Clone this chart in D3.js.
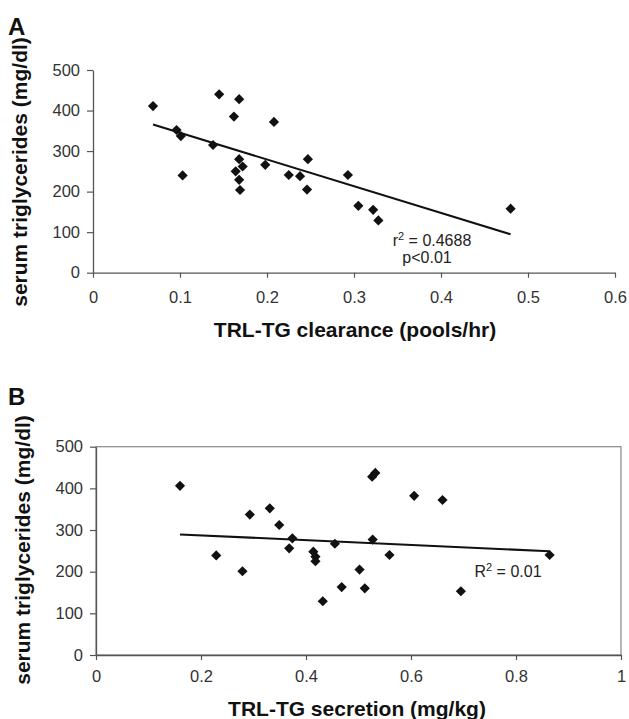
<!DOCTYPE html>
<html>
<head>
<meta charset="utf-8">
<script src="https://cdn.jsdelivr.net/npm/d3@7"></script>
<style>
  body { margin: 0; background: #fff; }
  text { font-family: "Liberation Sans", Arial, sans-serif; }
</style>
</head>
<body>
<div id="chart"></div>
<script>
// panel A: clearance vs serum TG
var clearanceA = [0.069, 0.096, 0.101, 0.103, 0.138, 0.145, 0.168, 0.162, 0.168, 0.172, 0.164, 0.168,
    0.169, 0.198, 0.208, 0.225, 0.238, 0.246, 0.247, 0.293, 0.305, 0.322, 0.328, 0.480];
var tgA = [411, 352, 337, 240, 315, 440, 428, 385, 280, 262, 250, 229,
    204, 266, 372, 241, 238, 205, 280, 241, 165, 155, 129, 158];
var trendA = [-659, 411];   // slope, intercept
var xTicksA = [0, 0.1, 0.2, 0.3, 0.4, 0.5, 0.6];

// panel B: secretion vs serum TG
var secretionB = [0.160, 0.229, 0.279, 0.293, 0.331, 0.349, 0.374, 0.368, 0.414, 0.418, 0.418, 0.432,
    0.455, 0.468, 0.502, 0.512, 0.526, 0.532, 0.527, 0.559, 0.606, 0.660, 0.695, 0.864];
var tgB = [406, 239, 201, 337, 352, 312, 280, 256, 248, 236, 225, 129,
    267, 163, 205, 160, 428, 437, 277, 240, 382, 372, 153, 240];
var trendB = [-57.4, 298.6];
var xTicksB = [0, 0.2, 0.4, 0.6, 0.8, 1];

var yTicks = [0, 100, 200, 300, 400, 500];

var width = 629, height = 719;

var svg = d3.select("#chart").append("svg")
    .attr("width", width)
    .attr("height", height);

var diamond = d3.symbol().type(d3.symbolSquare).size(52);

function drawPanel(p) {
    var g = svg.append("g");
    var x = d3.scaleLinear().domain([0, p.xMax]).range(p.xRange);
    var y = d3.scaleLinear().domain([0, 500]).range(p.yRange);

    if (p.frame) {
        g.append("rect")
            .attr("x", x(0)).attr("y", y(500))
            .attr("width", x(p.xMax) - x(0)).attr("height", y(0) - y(500))
            .attr("fill", "none").attr("stroke", "#888").attr("stroke-width", 1.2);
    }

    var xAxis = g.append("g")
        .attr("transform", "translate(0," + y(0) + ")")
        .call(d3.axisBottom(x).tickValues(p.xTicks).tickFormat(d3.format("")).tickSize(5).tickSizeOuter(0).tickPadding(p.xPad));
    var yAxis = g.append("g")
        .attr("transform", "translate(" + x(0) + ",0)")
        .call(d3.axisLeft(y).tickValues(yTicks).tickSize(6).tickSizeOuter(0).tickPadding(7));

    [xAxis, yAxis].forEach(function(a) {
        a.select(".domain").attr("stroke", "#555").attr("stroke-width", 1.3);
        a.selectAll(".tick line").attr("stroke", "#555").attr("stroke-width", 1.2);
        a.selectAll(".tick text").attr("fill", "#333").style("font-size", "16.5px");
    });

    // trend line over the data range
    var ext = d3.extent(p.xs);
    g.append("line")
        .attr("x1", x(ext[0])).attr("y1", y(p.trend[0] * ext[0] + p.trend[1]))
        .attr("x2", x(ext[1])).attr("y2", y(p.trend[0] * ext[1] + p.trend[1]))
        .attr("stroke", "#111").attr("stroke-width", 2.1);

    g.selectAll("path.pt")
        .data(p.xs.map(function(v, i) { return [v, p.ys[i]]; }))
        .enter().append("path")
        .attr("class", "pt")
        .attr("d", diamond)
        .attr("transform", function(d) { return "translate(" + x(d[0]) + "," + y(d[1]) + ") rotate(45)"; })
        .attr("fill", "#111");

    // panel letter
    g.append("text")
        .attr("x", 8).attr("y", p.letterY)
        .attr("font-size", 24).attr("font-weight", "bold").attr("fill", "#111")
        .text(p.letter);

    // axis titles
    g.append("text")
        .attr("transform", "translate(" + p.yTitleX + "," + p.yTitleY + ") rotate(-90)")
        .attr("text-anchor", "middle")
        .attr("font-size", 21).attr("font-weight", "bold").attr("fill", "#111")
        .text("serum triglycerides (mg/dl)");
    g.append("text")
        .attr("x", p.xTitleX).attr("y", p.xTitleY)
        .attr("text-anchor", "middle")
        .attr("font-size", 21).attr("font-weight", "bold").attr("fill", "#111")
        .text(p.xTitle);

    // annotation
    p.notes.forEach(function(n) {
        var t = g.append("text")
            .attr("x", n.x).attr("y", n.y)
            .attr("text-anchor", "middle")
            .attr("font-size", 16).attr("fill", "#222");
        t.append("tspan").text(n.a);
        if (n.sup) {
            t.append("tspan").attr("font-size", 11).attr("dy", -6).text(n.sup);
            t.append("tspan").attr("dy", 6).text(n.b);
        }
    });
}

drawPanel({
    xs: clearanceA, ys: tgA, trend: trendA, xTicks: xTicksA, xMax: 0.6,
    xRange: [93, 615], yRange: [272.7, 70], xPad: 14, frame: false,
    letter: "A", letterY: 35,
    yTitleX: 27, yTitleY: 172,
    xTitle: "TRL-TG clearance (pools/hr)", xTitleX: 355, xTitleY: 337,
    notes: [{ x: 432, y: 246, a: "r", sup: "2", b: " = 0.4688" }, { x: 427, y: 263, a: "p<0.01" }]
});

drawPanel({
    xs: secretionB, ys: tgB, trend: trendB, xTicks: xTicksB, xMax: 1,
    xRange: [96, 621], yRange: [655, 446.7], xPad: 10, frame: true,
    letter: "B", letterY: 405,
    yTitleX: 30, yTitleY: 550,
    xTitle: "TRL-TG secretion (mg/kg)", xTitleX: 357, xTitleY: 716,
    notes: [{ x: 508, y: 577, a: "R", sup: "2", b: " = 0.01" }]
});
</script>
</body>
</html>
